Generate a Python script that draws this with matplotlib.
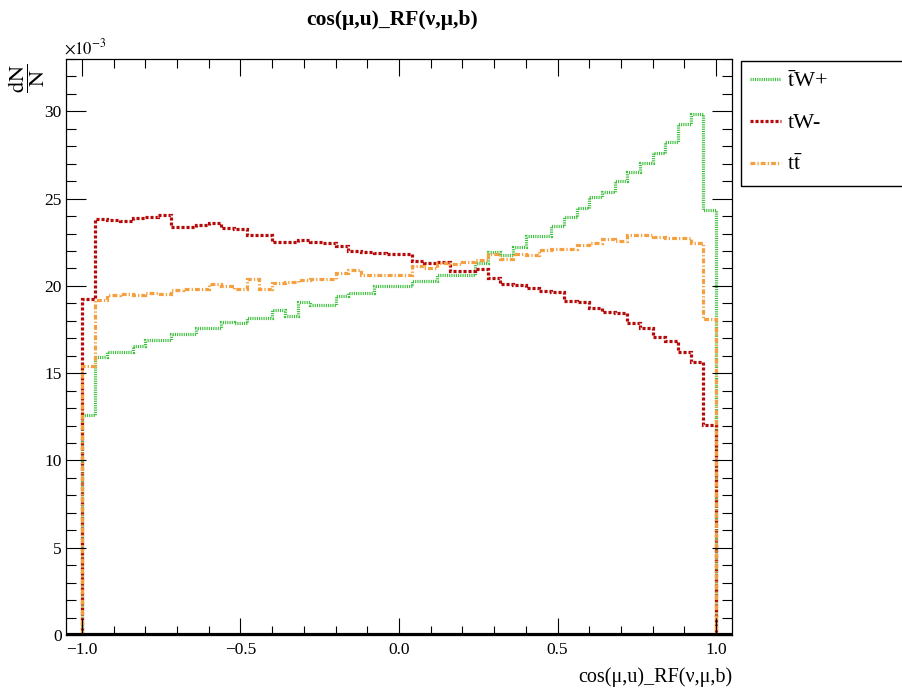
import numpy as np
import matplotlib
matplotlib.use('Agg')
import matplotlib.pyplot as plt
from matplotlib.lines import Line2D
from matplotlib.patches import Rectangle
from matplotlib.ticker import MultipleLocator

plt.rcParams['font.family'] = ['Liberation Serif', 'DejaVu Serif']
plt.rcParams['mathtext.fontset'] = 'stix'
plt.rcParams['lines.scale_dashes'] = False

# 50 bins of width 0.04 between -1 and 1
edges = np.linspace(-1.0, 1.0, 51)

# normalised bin contents (units of 1e-3)
tbarw_plus = [12.6, 15.9, 16.2, 16.2, 16.55, 16.9, 16.9, 17.25, 17.25, 17.6,
              17.6, 17.95, 17.9, 18.15, 18.15, 18.6, 18.25, 19.05, 18.9, 18.9,
              19.45, 19.6, 19.6, 20.0, 20.0, 20.0, 20.3, 20.3, 20.65, 20.65,
              20.65, 21.3, 21.95, 21.75, 22.25, 22.85, 22.85, 23.45, 23.95, 24.45,
              25.1, 25.4, 26.0, 26.5, 27.05, 27.6, 28.25, 29.3, 29.85, 24.35]
tw_minus = [19.25, 23.85, 23.75, 23.7, 23.9, 23.95, 24.05, 23.35, 23.4, 23.5,
            23.6, 23.3, 23.25, 22.9, 22.9, 22.5, 22.5, 22.65, 22.5, 22.45,
            22.3, 22.0, 21.95, 21.9, 21.8, 21.8, 21.45, 21.3, 21.35, 20.85,
            20.85, 20.95, 20.45, 20.1, 20.05, 19.9, 19.7, 19.65, 19.15, 19.1,
            18.75, 18.5, 18.45, 17.9, 17.6, 17.05, 16.85, 16.2, 15.65, 12.05]
ttbar = [15.4, 19.2, 19.5, 19.55, 19.5, 19.6, 19.55, 19.75, 19.8, 19.85,
         20.1, 20.0, 19.85, 20.4, 19.8, 20.15, 20.2, 20.35, 20.4, 20.4,
         20.75, 20.9, 20.65, 20.65, 20.65, 20.65, 21.15, 21.0, 21.3, 21.25,
         21.35, 21.5, 21.85, 21.55, 21.85, 21.75, 22.05, 22.1, 22.1, 22.35,
         22.45, 22.7, 22.55, 22.9, 22.9, 22.8, 22.75, 22.75, 22.45, 18.1]

labels = [r'$\bar{\mathrm{t}}$W+', 'tW-', r't$\bar{\mathrm{t}}$']
colors = ['#3cbf3c', '#b40a0a', '#f5a040']
styles = [(0, (0.8, 0.8)), (0, (2.2, 1.4)), (0, (3.5, 1.5, 0.9, 1.5))]
widths = [2.3, 2.3, 2.3]

fig = plt.figure(figsize=(9.02, 6.92), dpi=100)
ax = fig.add_axes([66 / 902, 1 - 635 / 692, 666 / 902, 576 / 692])

handles = []
for vals, lab, c, ls, lw in zip([tbarw_plus, tw_minus, ttbar], labels, colors, styles, widths):
    ax.stairs(vals, edges, baseline=0, color=c, linestyle=ls, linewidth=lw)
    handles.append(Line2D([], [], color=c, linestyle=ls, linewidth=lw, label=lab))

ax.axhline(0, color='black', lw=3, zorder=5)

ax.set_xlim(-1.05, 1.05)
ax.set_ylim(0, 33.0)
ax.xaxis.set_major_locator(MultipleLocator(0.5))
ax.xaxis.set_minor_locator(MultipleLocator(0.1))
ax.yaxis.set_major_locator(MultipleLocator(5))
ax.yaxis.set_minor_locator(MultipleLocator(1))
ax.tick_params(which='both', direction='in', top=True, right=True, width=0.8,
               labelsize=12.5)
ax.xaxis.set_tick_params(which='major', length=12, pad=5)
ax.xaxis.set_tick_params(which='minor', length=6.5)
ax.yaxis.set_tick_params(which='major', length=14.5, pad=3)
ax.yaxis.set_tick_params(which='minor', length=7.5)
for s in ax.spines.values():
    s.set_linewidth(0.9)

ax.set_xlabel('cos(μ,u)_RF(ν,μ,b)', loc='right', fontsize=14.5, labelpad=7)

fig.text(392 / 902, 1 - 20 / 692, 'cos(μ,u)_RF(ν,μ,b)', ha='center', va='center',
         fontsize=15.5, fontweight='bold')
fig.text(64 / 902, 1 - 48 / 692, r'$\times10^{-3}$', ha='left', va='center', fontsize=12)
fig.text(27 / 902, 1 - 78 / 692, r'$\dfrac{\mathrm{dN}}{\mathrm{N}}$', ha='center',
         va='center', rotation=90, fontsize=16)

fig.patches.append(Rectangle((741 / 902, 1 - 186 / 692), 0.2, 125 / 692,
                             transform=fig.transFigure, fill=False,
                             edgecolor='black', linewidth=1))
fig.legend(handles=handles, loc='upper left', bbox_to_anchor=(743 / 902, 1 - 64 / 692),
           frameon=False, fontsize=16, handlelength=1.4, handletextpad=0.3,
           labelspacing=0.95, borderaxespad=0, borderpad=0.3)

fig.savefig('out.png', dpi=100)
